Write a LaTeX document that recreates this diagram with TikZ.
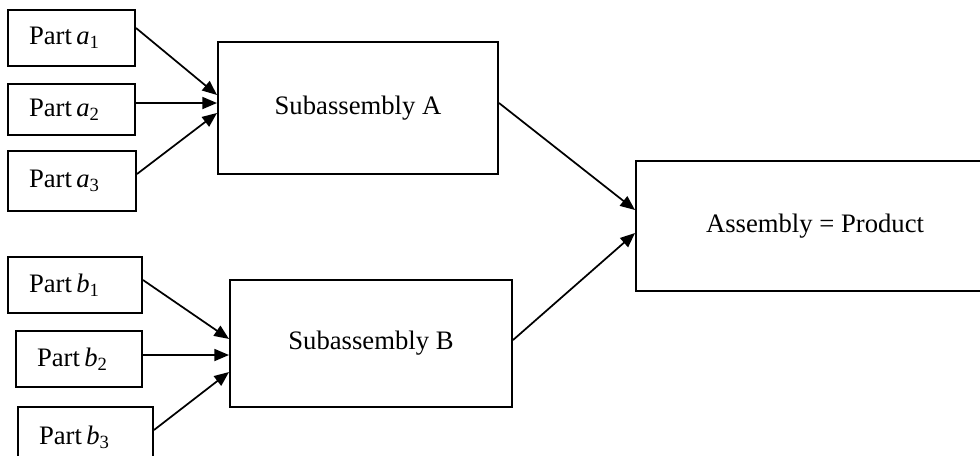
\documentclass[tikz,border=0pt]{standalone}
\usepackage{fontspec}
\setmainfont{Liberation Serif}
\usepackage{tikz}
\usetikzlibrary{arrows.meta}
\tikzset{
  box/.style={draw=black, line width=1.5pt, inner sep=0pt, font=\fontsize{20}{24}\selectfont},
  part/.style={box, align=left, inner xsep=15.75pt, text width=#1},
  big/.style={box, align=center},
  arr/.style={draw=black, line width=1.3pt, -{Triangle[length=11pt,width=9pt]}},
}
\newcommand{\partlabel}[2]{Part\,\textit{#1}\textsubscript{#2}}

\begin{document}
\begin{tikzpicture}[x=0.75pt, y=-0.75pt]
  \useasboundingbox (0,0) rectangle (980,455);
  \clip (0,0) rectangle (980,455);

  \node[part=63.75pt, minimum height=42pt] (pa1) at (71.5,38) {\partlabel{a}{1}};
  \node[part=63.75pt, minimum height=38.25pt] (pa2) at (71.5,109.5) {\partlabel{a}{2}};
  \node[part=64.5pt, minimum height=45pt] (pa3) at (72,181) {\partlabel{a}{3}};
  \node[part=69pt, minimum height=42pt] (pb1) at (75,285) {\partlabel{b}{1}};
  \node[part=63pt, minimum height=42pt] (pb2) at (79,359) {\partlabel{b}{2}};
  \node[part=69.75pt, minimum height=45pt] (pb3) at (85.5,437) {\partlabel{b}{3}};

  \node[big, minimum width=210pt, minimum height=99pt] (subA) at (358,108) {Subassembly A};
  \node[big, minimum width=211.5pt, minimum height=95.25pt] (subB) at (371,343.5) {Subassembly B};
  \node[big, minimum width=268.5pt, minimum height=97.5pt] (asm) at (815,226) {Assembly = Product};

  \draw[arr] ([yshift=7.5pt]pa1.east) -- ([yshift=9.75pt]subA.west);
  \draw[arr] ([yshift=4.875pt]pa2.east) -- ([yshift=3.75pt]subA.west);
  \draw[arr] ([yshift=5.25pt]pa3.east) -- ([yshift=-3.75pt]subA.west);

  \draw[arr] ([yshift=3.75pt]pb1.east) -- ([yshift=3.4pt]subB.west);
  \draw[arr] ([yshift=3pt]pb2.east) -- ([yshift=-8.625pt]subB.west);
  \draw[arr] ([yshift=5.25pt]pb3.east) -- ([yshift=-21.4pt]subB.west);

  \draw[arr] ([yshift=3.75pt]subA.east) -- ([yshift=12pt]asm.west);
  \draw[arr] ([yshift=2.6pt]subB.east) -- ([yshift=-5.25pt]asm.west);
\end{tikzpicture}
\end{document}
